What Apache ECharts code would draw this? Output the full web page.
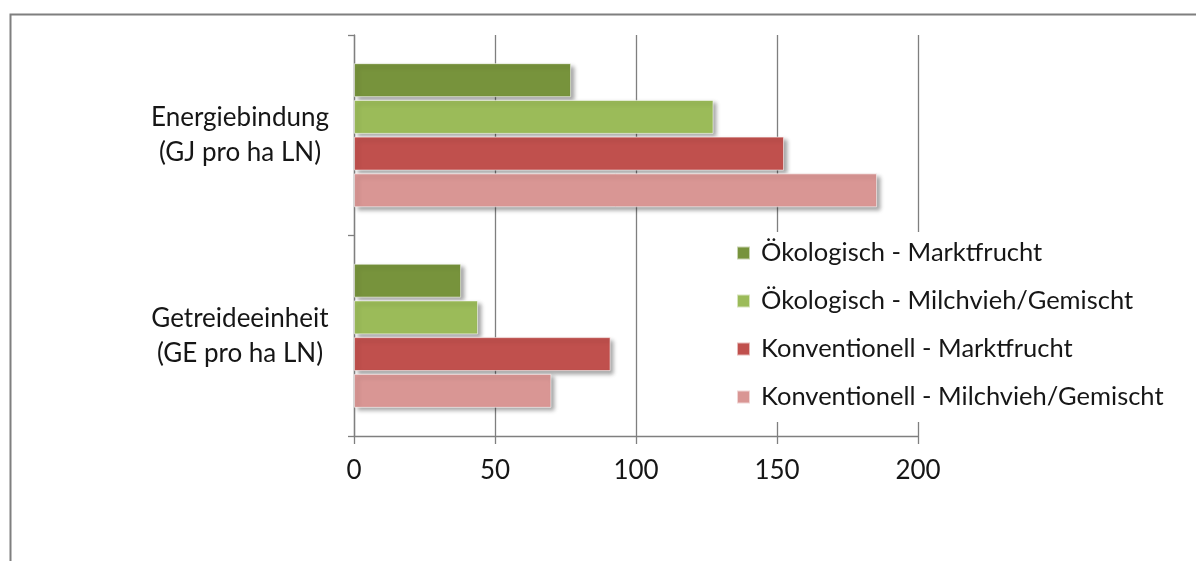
<!DOCTYPE html>
<html>
<head>
<meta charset="utf-8">
<script src="https://cdn.jsdelivr.net/npm/echarts@6/dist/echarts.min.js"></script>
<style>
  html, body { margin: 0; padding: 0; background: #ffffff; }
  #chart { width: 1196px; height: 561px; }
</style>
</head>
<body>
<div id="chart"></div>
<script>
// Categories, listed top to bottom
const categories = ['Energiebindung\n(GJ pro ha LN)', 'Getreideeinheit\n(GE pro ha LN)'];

// One array per farm type, same order as categories
const oekoMarktfrucht = [77, 38];
const oekoMilchvieh   = [127.5, 44];
const konvMarktfrucht = [152.5, 91];
const konvMilchvieh   = [185.5, 70];

const seriesNames = [
  'Ökologisch - Marktfrucht',
  'Ökologisch - Milchvieh/Gemischt',
  'Konventionell - Marktfrucht',
  'Konventionell - Milchvieh/Gemischt'
];
const seriesValues = [oekoMarktfrucht, oekoMilchvieh, konvMarktfrucht, konvMilchvieh];
const seriesColors = ['#77933c', '#9bbb59', '#c0504d', '#d99694'];

const xTicks = { min: 0, max: 200, interval: 50 };

const FONT = 'Lato';
const axisGray = '#7f7f7f';

const chart = echarts.init(document.getElementById('chart'), null, { renderer: 'canvas' });

chart.setOption({
  backgroundColor: '#ffffff',
  animation: false,
  textStyle: { fontFamily: FONT },
  graphic: [{
    type: 'rect',
    left: 8, top: 12,
    shape: { width: 1400, height: 800 },
    style: { fill: 'none', stroke: '#7f7f7f', lineWidth: 2 },
    silent: true
  }],
  grid: { left: 354, right: 278, top: 35, bottom: 125 },
  xAxis: {
    type: 'value',
    min: xTicks.min, max: xTicks.max, interval: xTicks.interval,
    axisLine: { show: true, lineStyle: { color: axisGray, width: 1.3 } },
    axisTick: { show: true, length: 8, lineStyle: { color: axisGray, width: 1.3 } },
    splitLine: { show: true, lineStyle: { color: axisGray, width: 1.3 } },
    axisLabel: { color: '#161616', fontSize: 26, margin: 22, fontFamily: FONT }
  },
  yAxis: {
    type: 'category',
    inverse: true,
    data: categories,
    axisLine: { show: true, lineStyle: { color: axisGray, width: 1.3 } },
    axisTick: { show: true, length: 6, alignWithLabel: false, lineStyle: { color: axisGray, width: 1.3 } },
    axisLabel: {
      color: '#161616', fontSize: 26, lineHeight: 35,
      align: 'center', margin: 114, fontFamily: FONT
    }
  },
  legend: {
    orient: 'vertical',
    left: 724, top: 232,
    padding: [8, 12, 12, 12],
    backgroundColor: '#ffffff',
    itemWidth: 13, itemHeight: 13, itemGap: 22,
    icon: 'rect',
    data: seriesNames,
    textStyle: { color: '#161616', fontSize: 25.5, lineHeight: 26, padding: [0, 0, 0, 6], fontFamily: FONT }
  },
  series: seriesNames.map((name, i) => ({
    name: name,
    type: 'bar',
    data: seriesValues[i],
    barWidth: 34,
    barGap: '8%',
    itemStyle: {
      color: seriesColors[i],
      borderColor: 'rgba(255,255,255,0.6)',
      borderWidth: 1,
      shadowColor: 'rgba(0,0,0,0.35)',
      shadowBlur: 4,
      shadowOffsetX: 3,
      shadowOffsetY: 3
    }
  }))
});
</script>
</body>
</html>
